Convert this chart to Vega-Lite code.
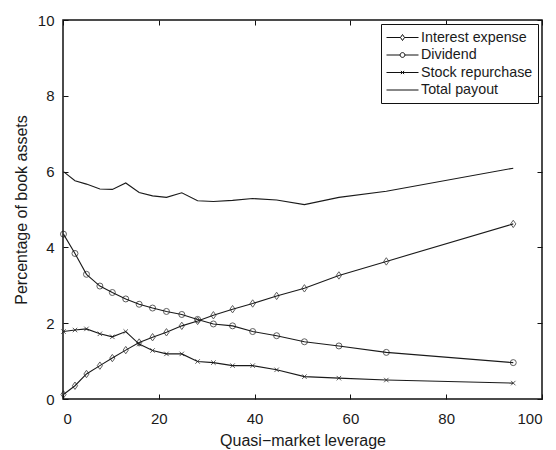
{
  "$schema": "https://vega.github.io/schema/vega-lite/v6.json",
  "width": 479,
  "height": 379,
  "autosize": "none",
  "padding": {"left": 63, "top": 20, "right": 14, "bottom": 51},
  "background": "white",
  "config": {
    "font": "Liberation Sans",
    "view": {"stroke": "#111", "strokeWidth": 1.5},
    "axis": {"grid": false, "domain": false, "tickColor": "#111", "tickSize": -5, "tickWidth": 1, "labelColor": "#1a1a1a", "titleColor": "#1a1a1a", "labelFontSize": 15, "titleFontSize": 16, "titleFontWeight": "normal", "labelFont": "Liberation Sans", "titleFont": "Liberation Sans"}
  },
  "data": {"values": [
    {"x": 0.1, "y": 0.12, "series": "Interest expense"},
    {"x": 2.5, "y": 0.35, "series": "Interest expense"},
    {"x": 4.9, "y": 0.66, "series": "Interest expense"},
    {"x": 7.7, "y": 0.88, "series": "Interest expense"},
    {"x": 10.3, "y": 1.08, "series": "Interest expense"},
    {"x": 13.1, "y": 1.29, "series": "Interest expense"},
    {"x": 15.9, "y": 1.49, "series": "Interest expense"},
    {"x": 18.7, "y": 1.63, "series": "Interest expense"},
    {"x": 21.6, "y": 1.76, "series": "Interest expense"},
    {"x": 24.8, "y": 1.93, "series": "Interest expense"},
    {"x": 28.1, "y": 2.06, "series": "Interest expense"},
    {"x": 31.4, "y": 2.21, "series": "Interest expense"},
    {"x": 35.4, "y": 2.37, "series": "Interest expense"},
    {"x": 39.6, "y": 2.52, "series": "Interest expense"},
    {"x": 44.6, "y": 2.72, "series": "Interest expense"},
    {"x": 50.4, "y": 2.92, "series": "Interest expense"},
    {"x": 57.6, "y": 3.26, "series": "Interest expense"},
    {"x": 67.5, "y": 3.63, "series": "Interest expense"},
    {"x": 94.0, "y": 4.62, "series": "Interest expense"},
    {"x": 0.1, "y": 4.35, "series": "Dividend"},
    {"x": 2.5, "y": 3.84, "series": "Dividend"},
    {"x": 4.9, "y": 3.29, "series": "Dividend"},
    {"x": 7.7, "y": 2.98, "series": "Dividend"},
    {"x": 10.3, "y": 2.81, "series": "Dividend"},
    {"x": 13.1, "y": 2.64, "series": "Dividend"},
    {"x": 15.9, "y": 2.50, "series": "Dividend"},
    {"x": 18.7, "y": 2.40, "series": "Dividend"},
    {"x": 21.6, "y": 2.31, "series": "Dividend"},
    {"x": 24.8, "y": 2.23, "series": "Dividend"},
    {"x": 28.1, "y": 2.10, "series": "Dividend"},
    {"x": 31.4, "y": 1.98, "series": "Dividend"},
    {"x": 35.4, "y": 1.93, "series": "Dividend"},
    {"x": 39.6, "y": 1.78, "series": "Dividend"},
    {"x": 44.6, "y": 1.67, "series": "Dividend"},
    {"x": 50.4, "y": 1.51, "series": "Dividend"},
    {"x": 57.6, "y": 1.40, "series": "Dividend"},
    {"x": 67.5, "y": 1.23, "series": "Dividend"},
    {"x": 94.0, "y": 0.96, "series": "Dividend"},
    {"x": 0.1, "y": 1.78, "series": "Stock repurchase"},
    {"x": 2.5, "y": 1.82, "series": "Stock repurchase"},
    {"x": 4.9, "y": 1.85, "series": "Stock repurchase"},
    {"x": 7.7, "y": 1.72, "series": "Stock repurchase"},
    {"x": 10.3, "y": 1.64, "series": "Stock repurchase"},
    {"x": 13.1, "y": 1.78, "series": "Stock repurchase"},
    {"x": 15.9, "y": 1.45, "series": "Stock repurchase"},
    {"x": 18.7, "y": 1.28, "series": "Stock repurchase"},
    {"x": 21.6, "y": 1.19, "series": "Stock repurchase"},
    {"x": 24.8, "y": 1.19, "series": "Stock repurchase"},
    {"x": 28.1, "y": 0.99, "series": "Stock repurchase"},
    {"x": 31.4, "y": 0.96, "series": "Stock repurchase"},
    {"x": 35.4, "y": 0.88, "series": "Stock repurchase"},
    {"x": 39.6, "y": 0.88, "series": "Stock repurchase"},
    {"x": 44.6, "y": 0.77, "series": "Stock repurchase"},
    {"x": 50.4, "y": 0.59, "series": "Stock repurchase"},
    {"x": 57.6, "y": 0.55, "series": "Stock repurchase"},
    {"x": 67.5, "y": 0.50, "series": "Stock repurchase"},
    {"x": 94.0, "y": 0.42, "series": "Stock repurchase"},
    {"x": 0.1, "y": 6.00, "series": "Total payout"},
    {"x": 2.5, "y": 5.76, "series": "Total payout"},
    {"x": 4.9, "y": 5.67, "series": "Total payout"},
    {"x": 7.7, "y": 5.54, "series": "Total payout"},
    {"x": 10.3, "y": 5.53, "series": "Total payout"},
    {"x": 13.1, "y": 5.70, "series": "Total payout"},
    {"x": 15.9, "y": 5.45, "series": "Total payout"},
    {"x": 18.7, "y": 5.36, "series": "Total payout"},
    {"x": 21.6, "y": 5.32, "series": "Total payout"},
    {"x": 24.8, "y": 5.44, "series": "Total payout"},
    {"x": 28.1, "y": 5.23, "series": "Total payout"},
    {"x": 31.4, "y": 5.21, "series": "Total payout"},
    {"x": 35.4, "y": 5.24, "series": "Total payout"},
    {"x": 39.6, "y": 5.29, "series": "Total payout"},
    {"x": 44.6, "y": 5.25, "series": "Total payout"},
    {"x": 50.4, "y": 5.13, "series": "Total payout"},
    {"x": 57.6, "y": 5.32, "series": "Total payout"},
    {"x": 67.5, "y": 5.48, "series": "Total payout"},
    {"x": 94.0, "y": 6.09, "series": "Total payout"}
  ]},
  "resolve": {"axis": {"x": "independent", "y": "independent"}, "scale": {"shape": "independent"}},
  "layer": [
    {
      "mark": {"type": "line", "color": "#1a1a1a", "strokeWidth": 1.1},
      "encoding": {
        "x": {"field": "x", "type": "quantitative", "scale": {"domain": [0, 100]}, "axis": {"orient": "bottom", "values": [0, 20, 40, 60, 80, 100], "title": "Quasi\u2212market leverage", "labelPadding": 17, "titlePadding": 6}},
        "y": {"field": "y", "type": "quantitative", "scale": {"domain": [0, 10]}, "axis": {"orient": "left", "values": [0, 2, 4, 6, 8, 10], "title": "Percentage of book assets", "labelPadding": 14, "titlePadding": 8}},
        "detail": {"field": "series"}
      }
    },
    {
      "transform": [{"filter": {"field": "series", "equal": "Interest expense"}}],
      "mark": {"type": "point", "filled": false, "color": "#1a1a1a", "strokeWidth": 1, "shape": "M0,-1L0.7,0L0,1L-0.7,0Z", "size": 55},
      "encoding": {"x": {"field": "x", "type": "quantitative", "axis": null}, "y": {"field": "y", "type": "quantitative", "axis": null}}
    },
    {
      "transform": [{"filter": {"field": "series", "equal": "Dividend"}}],
      "mark": {"type": "point", "filled": false, "color": "#1a1a1a", "strokeWidth": 1, "shape": "circle", "size": 36},
      "encoding": {"x": {"field": "x", "type": "quantitative", "axis": null}, "y": {"field": "y", "type": "quantitative", "axis": null}}
    },
    {
      "transform": [{"filter": {"field": "series", "equal": "Stock repurchase"}}],
      "mark": {"type": "point", "filled": false, "color": "#1a1a1a", "strokeWidth": 1, "shape": "M-1,-1L1,1M-1,1L1,-1", "size": 20},
      "encoding": {"x": {"field": "x", "type": "quantitative", "axis": null}, "y": {"field": "y", "type": "quantitative", "axis": null}}
    },
    {
      "mark": {"type": "point", "filled": false, "color": "#111", "strokeWidth": 1, "opacity": 0, "size": 256},
      "encoding": {
        "x": {"field": "x", "type": "quantitative", "axis": {"orient": "top", "values": [0, 20, 40, 60, 80, 100], "labels": false, "title": null}},
        "y": {"field": "y", "type": "quantitative", "axis": {"orient": "right", "values": [0, 2, 4, 6, 8, 10], "labels": false, "title": null}},
        "shape": {
          "field": "series", "type": "nominal",
          "scale": {"domain": ["Interest expense", "Dividend", "Stock repurchase", "Total payout"],
                    "range": ["M-1,0H0.75M1.25,0H3M1,-0.375L1.25,0L1,0.375L0.75,0Z", "M-1,0H0.7M1.3,0H3M0.7,0A0.3,0.3 0 1,0 1.3,0A0.3,0.3 0 1,0 0.7,0", "M-1,0H3M0.8,-0.2L1.2,0.2M0.8,0.2L1.2,-0.2", "M-1,0H3"]},
          "legend": {
            "title": null, "orient": "top-right", "offset": 4,
            "symbolOpacity": 1, "symbolSize": 256, "symbolStrokeColor": "#111", "symbolFillColor": "transparent", "symbolStrokeWidth": 1,
            "labelFontSize": 14.3, "labelColor": "#1a1a1a", "labelFont": "Liberation Sans",
            "rowPadding": 1.5, "padding": 5, "strokeColor": "#111", "fillColor": "white", "labelOffset": 18
          }
        }
      }
    }
  ]
}
